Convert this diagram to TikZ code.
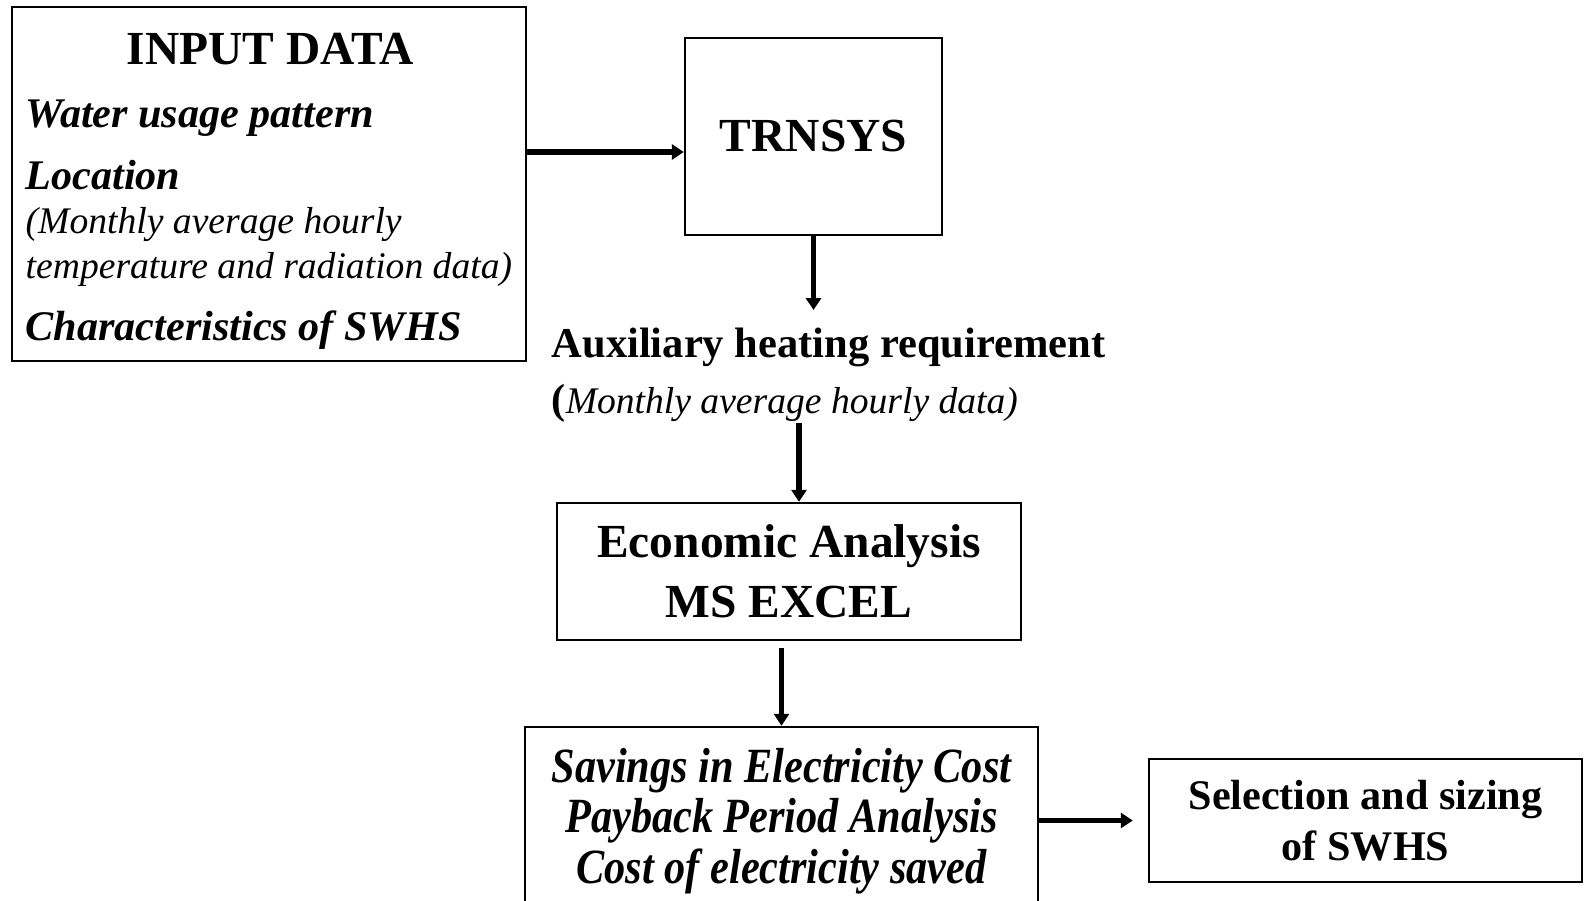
\documentclass[tikz,border=0pt]{standalone}
\usepackage{fontspec}
\setmainfont{Liberation Serif}
\newfontfamily\narrowfont[FakeStretch=0.86]{Liberation Serif}
\usetikzlibrary{arrows.meta}
\newcommand{\bigbf}{\fontsize{13.5}{16.4}\selectfont\bfseries}
\newcommand{\bfit}{\fontsize{12}{14.4}\selectfont\bfseries\itshape}
\newcommand{\smit}{\fontsize{10.7}{13}\selectfont\itshape}
\tikzset{
  block/.style={rectangle,draw=black,line width=0.7pt,inner sep=0pt,align=center},
  line/.style={anchor=base west,inner sep=0pt},
  arr/.style={line width=1.7pt,-{Triangle[length=1.2mm,width=1.5mm]}},
}

\begin{document}
\begin{tikzpicture}
\useasboundingbox (0,0) rectangle (15.85,-9.01);
% boxes
\path (2.69,-1.84) node(input)[block,minimum width=5.14cm,minimum height=3.54cm]{}
(8.135,-1.365) node(trnsys)[block,minimum width=2.57cm,minimum height=1.97cm]{\bigbf TRNSYS}
(7.89,-5.715) node(econ)[block,minimum width=4.64cm,minimum height=1.37cm,
  font=\bigbf]{Economic Analysis\\[0.6pt] MS EXCEL}
(7.815,-8.17) node(savings)[block,minimum width=5.13cm,minimum height=1.8cm,
  font={\narrowfont\fontsize{14}{14.4}\selectfont\bfseries\itshape}]{\rule{0pt}{12pt}Savings in Electricity Cost\\ Payback Period Analysis\\ Cost of electricity saved}
(13.655,-8.205) node(select)[block,minimum width=4.33cm,minimum height=1.23cm,
  font={\fontsize{12}{14.4}\selectfont\bfseries}]{Selection and sizing\\ of SWHS};
% input data text
\path (2.7,-0.65) node(title)[anchor=base,inner sep=0pt]{\bigbf INPUT DATA}
(0.25,-1.28) node(water)[line]{\bfit Water usage pattern}
(0.25,-1.90) node(loc)[line]{\bfit Location}
(0.25,-2.34) node(locA)[line]{\smit (Monthly average hourly}
(0.25,-2.79) node(locB)[line]{\smit temperature and radiation data)}
(0.25,-3.40) node(charac)[line]{\bfit Characteristics of SWHS};
% auxiliary heating
\path (5.51,-3.27) node(aux)[anchor=north west,inner sep=0pt,align=left]{\fontsize{12.1}{14.4}\selectfont\bfseries Auxiliary heating requirement\\[4pt]
  {\fontsize{12}{14.4}\selectfont\bfseries(}\smit Monthly average hourly data)};
% connectors
\draw[arr]([yshift=-1.55mm]trnsys.west -| input.east)--([yshift=-1.55mm]trnsys.west);
\draw[arr](trnsys.south)--([yshift=1.7mm]trnsys.south |- aux.north);
\draw[arr]([xshift=1mm]econ.north |- aux.south)--([xshift=1mm]econ.north);
\draw[arr,shorten <=2pt](savings.north |- econ.south)--(savings.north);
\draw[arr,shorten >=1.5mm](savings.east |- select.west)--(select.west);

\end{tikzpicture}
\end{document}
